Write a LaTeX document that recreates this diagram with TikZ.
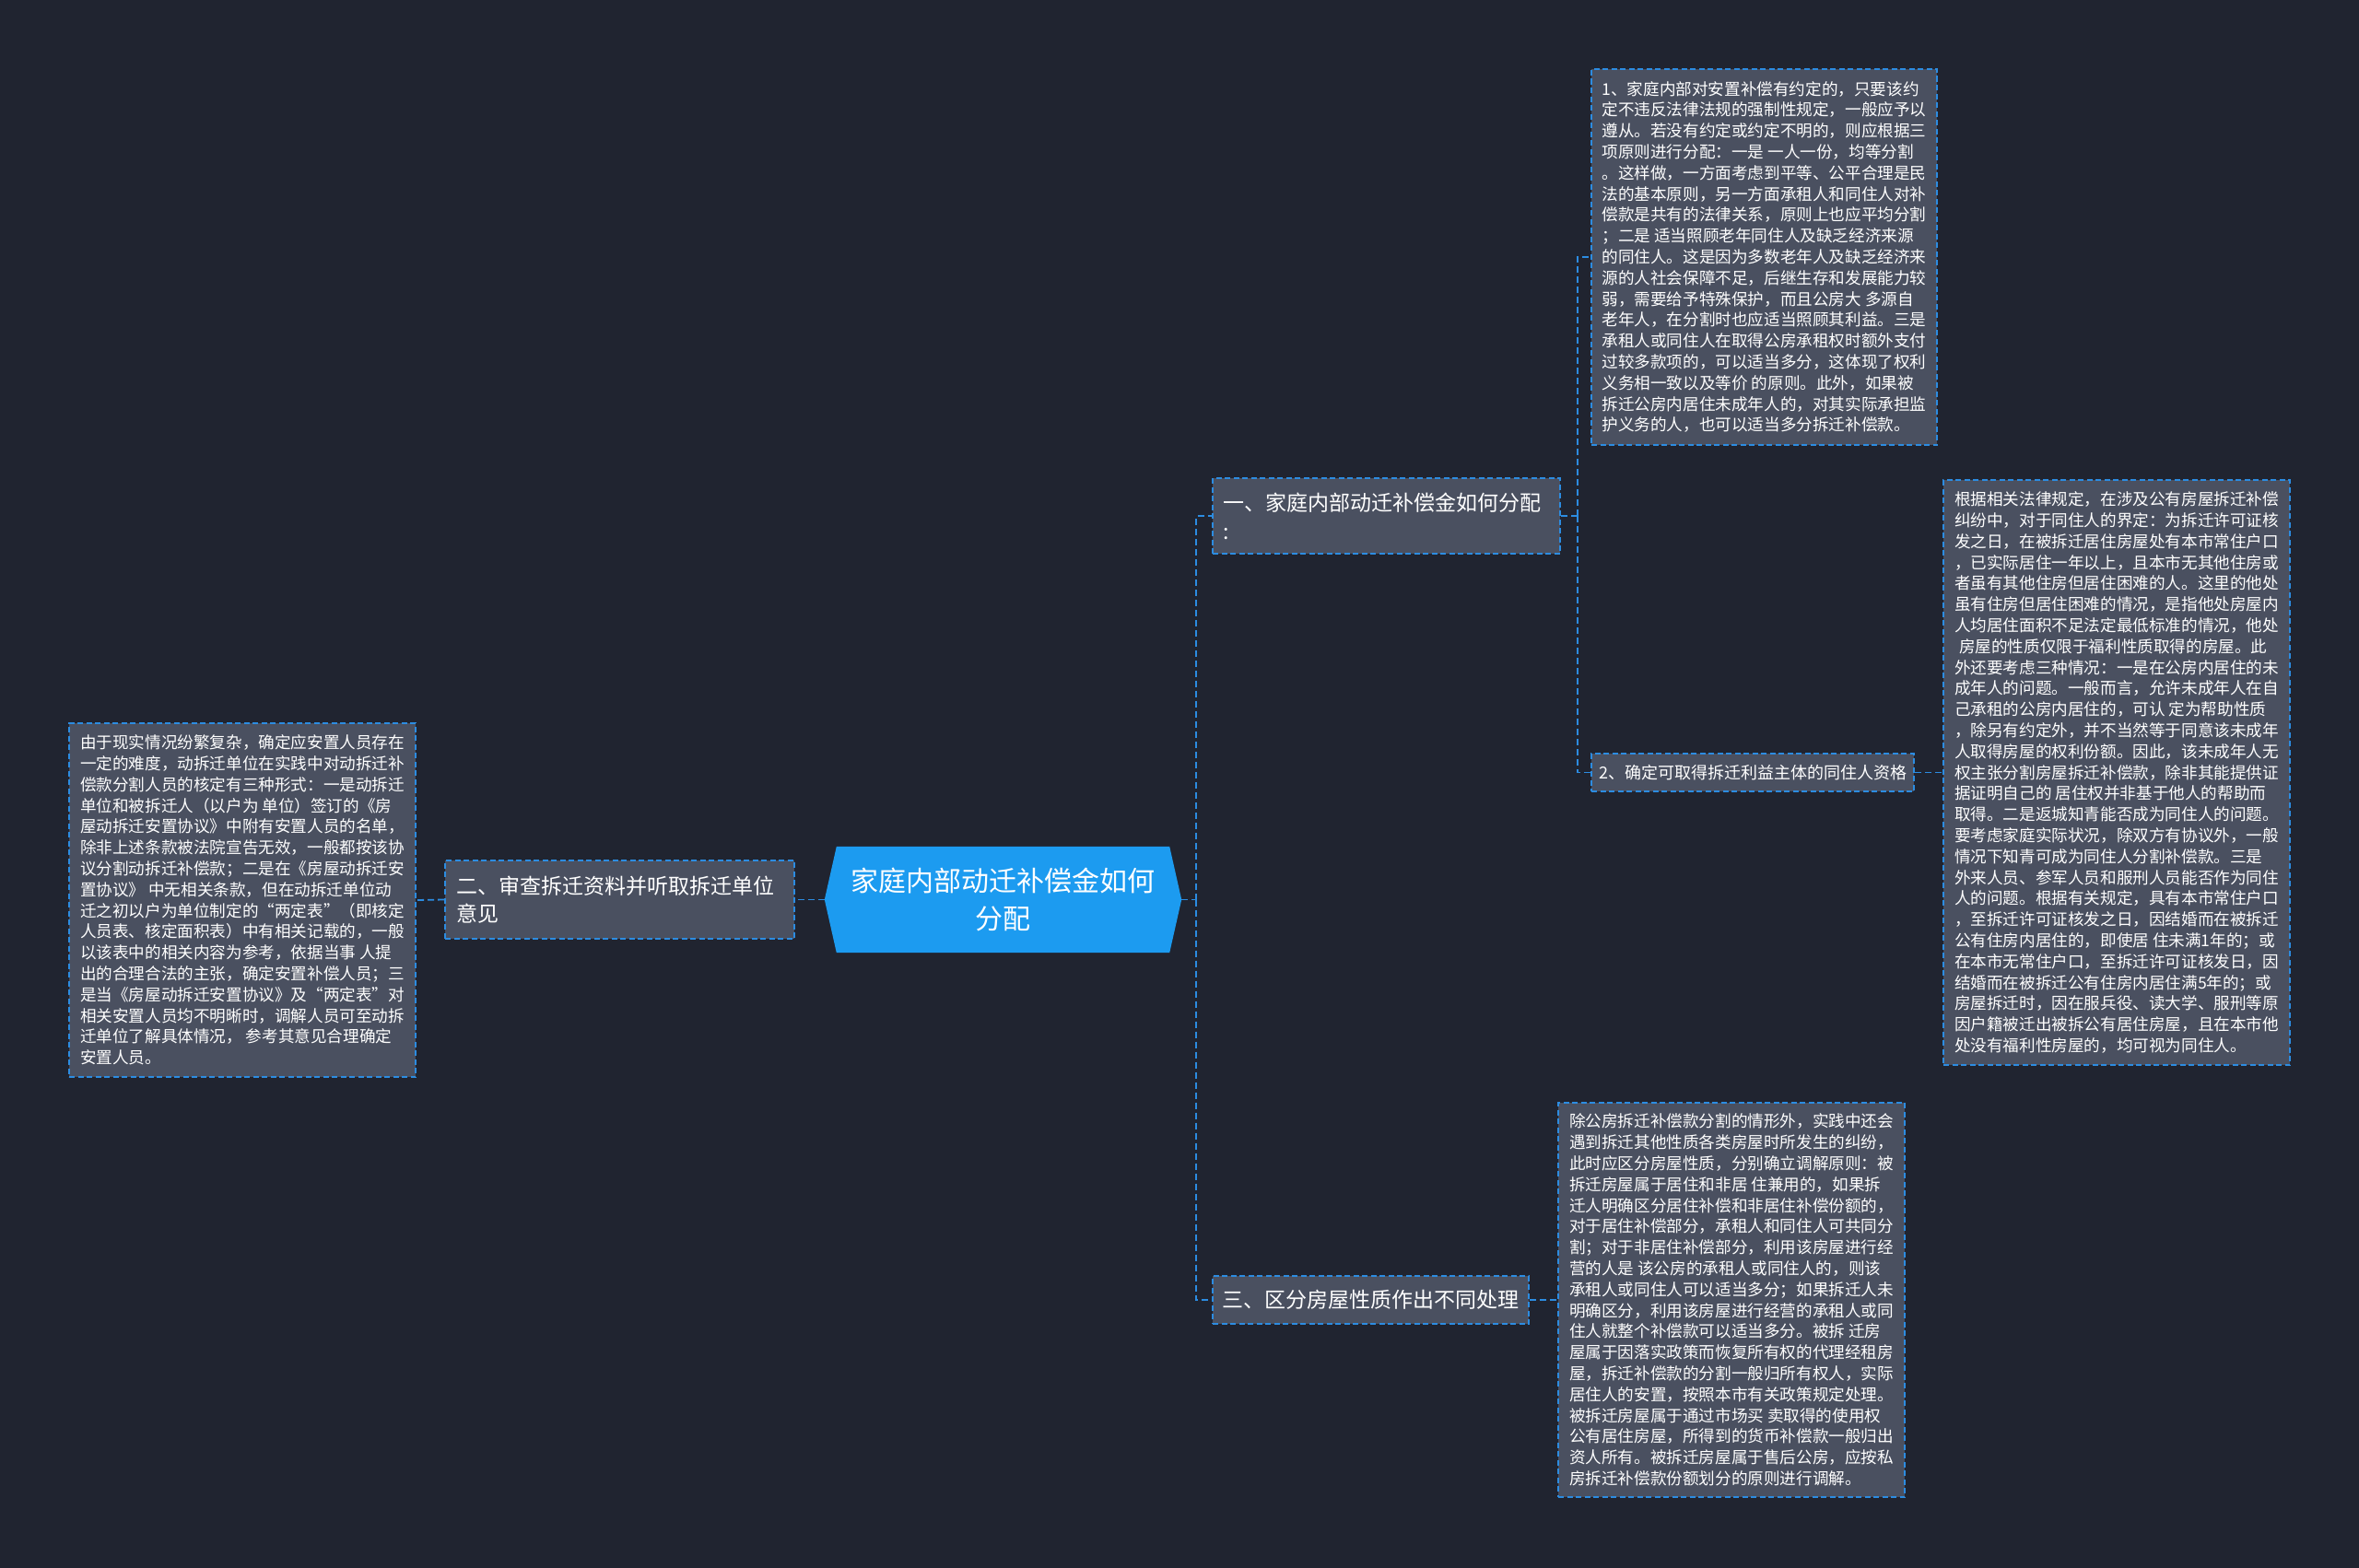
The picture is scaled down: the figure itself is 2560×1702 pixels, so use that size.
\documentclass[tikz,border=0pt]{standalone}
\usepackage{fontspec}
\setmainfont{Noto Sans CJK SC}
\usetikzlibrary{backgrounds}
\definecolor{bgcol}{RGB}{32,36,48}
\definecolor{boxfill}{RGB}{74,80,96}
\definecolor{lineblue}{RGB}{44,140,225}
\definecolor{rootblue}{RGB}{28,155,240}
\tikzset{
  box/.style={draw=lineblue, line width=1.6pt, dash pattern=on 6pt off 3.5pt, fill=boxfill, text=white, inner sep=0pt},
  conn/.style={draw=lineblue, line width=1.8pt, dash pattern=on 7pt off 4pt},
  para/.style={box, align=left, font=\fontsize{17.6}{22.8}\selectfont},
  titlebox/.style={box, align=left, inner xsep=11pt, font=\fontsize{23}{30}\selectfont},
  rootnode/.style={inner sep=0pt, text=white, align=center, font=\fontsize{30}{41}\selectfont},
}
\begin{document}
\begin{tikzpicture}[x=1pt,y=-1pt]
\useasboundingbox (0,0) rectangle (2560,1702);
\begin{scope}[on background layer]
\fill[bgcol] (0,0) rectangle (2560,1702);
\end{scope}

% root
\node[rootnode, minimum width=361pt, minimum height=115pt] (root) at (1088.5,976.5) {家庭内部动迁补偿金如何\\分配};
\begin{scope}[on background layer]
\fill[rootblue] (root.north west) -- (root.north east) -- ([xshift=13pt]root.east) -- (root.south east) -- (root.south west) -- ([xshift=-13pt]root.west) -- cycle;
\end{scope}

% level 1
\node[titlebox, text width=355pt, minimum height=82pt, font=\fontsize{23}{31}\selectfont] (n1) at (1504.5,560) {一、家庭内部动迁补偿金如何分配\\:};
\node[titlebox, text width=355pt, minimum height=85pt, inner xsep=12pt] (n2) at (672.5,976.5) {二、审查拆迁资料并听取拆迁单位\\意见};
\node[box, minimum width=343pt, minimum height=52pt, font=\fontsize{23}{30}\selectfont] (n3) at (1487.5,1411) {三、区分房屋性质作出不同处理};

% level 2
\node[box, minimum width=350pt, minimum height=41pt, font=\fontsize{18}{22}\selectfont] (n12) at (1902,838.5) {2、确定可取得拆迁利益主体的同住人资格};

\node[para, minimum width=375pt, minimum height=408pt] (tA) at (1914.5,279) {1、家庭内部对安置补偿有约定的，只要该约\\
定不违反法律法规的强制性规定，一般应予以\\
遵从。若没有约定或约定不明的，则应根据三\\
项原则进行分配：一是 一人一份，均等分割\\
。这样做，一方面考虑到平等、公平合理是民\\
法的基本原则，另一方面承租人和同住人对补\\
偿款是共有的法律关系，原则上也应平均分割\\
；二是 适当照顾老年同住人及缺乏经济来源\\
的同住人。这是因为多数老年人及缺乏经济来\\
源的人社会保障不足，后继生存和发展能力较\\
弱，需要给予特殊保护，而且公房大 多源自\\
老年人，在分割时也应适当照顾其利益。三是\\
承租人或同住人在取得公房承租权时额外支付\\
过较多款项的，可以适当多分，这体现了权利\\
义务相一致以及等价 的原则。此外，如果被\\
拆迁公房内居住未成年人的，对其实际承担监\\
护义务的人，也可以适当多分拆迁补偿款。};

\node[para, minimum width=376pt, minimum height=635pt] (tB) at (2297,838.5) {根据相关法律规定，在涉及公有房屋拆迁补偿\\
纠纷中，对于同住人的界定：为拆迁许可证核\\
发之日，在被拆迁居住房屋处有本市常住户口\\
，已实际居住一年以上，且本市无其他住房或\\
者虽有其他住房但居住困难的人。这里的他处\\
虽有住房但居住困难的情况，是指他处房屋内\\
人均居住面积不足法定最低标准的情况，他处\\
\hspace*{5pt}房屋的性质仅限于福利性质取得的房屋。此\\
外还要考虑三种情况：一是在公房内居住的未\\
成年人的问题。一般而言，允许未成年人在自\\
己承租的公房内居住的，可认 定为帮助性质\\
，除另有约定外，并不当然等于同意该未成年\\
人取得房屋的权利份额。因此，该未成年人无\\
权主张分割房屋拆迁补偿款，除非其能提供证\\
据证明自己的 居住权并非基于他人的帮助而\\
取得。二是返城知青能否成为同住人的问题。\\
要考虑家庭实际状况，除双方有协议外，一般\\
情况下知青可成为同住人分割补偿款。三是\\
外来人员、参军人员和服刑人员能否作为同住\\
人的问题。根据有关规定，具有本市常住户口\\
，至拆迁许可证核发之日，因结婚而在被拆迁\\
公有住房内居住的，即使居 住未满1年的；或\\
在本市无常住户口，至拆迁许可证核发日，因\\
结婚而在被拆迁公有住房内居住满5年的；或\\
房屋拆迁时，因在服兵役、读大学、服刑等原\\
因户籍被迁出被拆公有居住房屋，且在本市他\\
处没有福利性房屋的，均可视为同住人。};

\node[para, minimum width=376pt, minimum height=428pt] (tC) at (1879,1411) {除公房拆迁补偿款分割的情形外，实践中还会\\
遇到拆迁其他性质各类房屋时所发生的纠纷，\\
此时应区分房屋性质，分别确立调解原则：被\\
拆迁房屋属于居住和非居 住兼用的，如果拆\\
迁人明确区分居住补偿和非居住补偿份额的，\\
对于居住补偿部分，承租人和同住人可共同分\\
割；对于非居住补偿部分，利用该房屋进行经\\
营的人是 该公房的承租人或同住人的，则该\\
承租人或同住人可以适当多分；如果拆迁人未\\
明确区分，利用该房屋进行经营的承租人或同\\
住人就整个补偿款可以适当多分。被拆 迁房\\
屋属于因落实政策而恢复所有权的代理经租房\\
屋，拆迁补偿款的分割一般归所有权人，实际\\
居住人的安置，按照本市有关政策规定处理。\\
被拆迁房屋属于通过市场买 卖取得的使用权\\
公有居住房屋，所得到的货币补偿款一般归出\\
资人所有。被拆迁房屋属于售后公房，应按私\\
房拆迁补偿款份额划分的原则进行调解。};

\node[para, minimum width=376pt, minimum height=384pt] (tL) at (263,977) {由于现实情况纷繁复杂，确定应安置人员存在\\
一定的难度，动拆迁单位在实践中对动拆迁补\\
偿款分割人员的核定有三种形式：一是动拆迁\\
单位和被拆迁人（以户为 单位）签订的《房\\
屋动拆迁安置协议》中附有安置人员的名单，\\
除非上述条款被法院宣告无效，一般都按该协\\
议分割动拆迁补偿款；二是在《房屋动拆迁安\\
置协议》 中无相关条款，但在动拆迁单位动\\
迁之初以户为单位制定的“两定表”（即核定\\
人员表、核定面积表）中有相关记载的，一般\\
以该表中的相关内容为参考，依据当事 人提\\
出的合理合法的主张，确定安置补偿人员；三\\
是当《房屋动拆迁安置协议》及“两定表”对\\
相关安置人员均不明晰时，调解人员可至动拆\\
迁单位了解具体情况， 参考其意见合理确定\\
安置人员。};

% connectors
\draw[conn] ([xshift=13pt]root.east) -- ++(16,0) coordinate (jR);
\draw[conn] (jR) |- (n1.west);
\draw[conn] (jR) |- (n3.west);
\draw[conn] ([xshift=-13pt]root.west) -- (n2.east);
\draw[conn] (n2.west) -- (tL.east);
\draw[conn] (n1.east) -- ++(18,0) coordinate (jA);
\draw[conn] (jA) |- (tA.west);
\draw[conn] (jA) |- (n12.west);
\draw[conn] (n12.east) -- (n12.east -| tB.west);
\draw[conn] (n3.east) -- (n3.east -| tC.west);
\end{tikzpicture}
\end{document}
